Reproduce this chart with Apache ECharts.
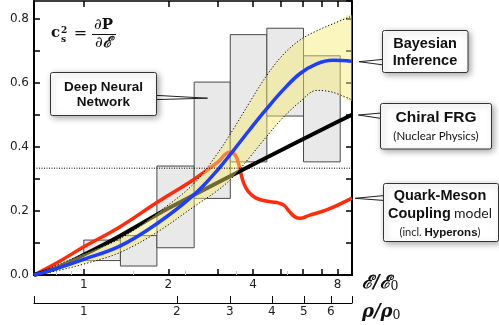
<!DOCTYPE html>
<html>
<head>
<meta charset="utf-8">
<script src="https://cdn.jsdelivr.net/npm/echarts@6/dist/echarts.min.js"></script>
<style>
html,body{margin:0;padding:0;background:#fff;}
#chart{width:499px;height:325px;}
</style>
</head>
<body>
<div id="chart"></div>
<script>
// ---- axis ticks ----
const epsTicks = [1, 2, 3, 4, 5, 6, 7, 8];
const epsLabels = [1, 2, 4, 8];
const epsMinorTicks = [0.8, 0.9, 1.5, 2.3, 3.5, 5.3];
const rhoTicks = [1, 2, 3, 4, 5, 6];
const rhoAtEps = [1, 2.143, 3.31, 4.67, 6.07, 7.57];
const epsMin = 0.665, epsMax = 9.0;
const yMin = 0, yMax = 0.855;
const conformalLimit = 1 / 3;

// ---- Deep Neural Network boxes ----
const boxEdges = [1, 1.35, 1.82, 2.47, 3.32, 4.48, 6.05, 8.17];
const boxLow  = [0.045, 0.028, 0.085, 0.239, 0.353, 0.496, 0.353];
const boxHigh = [0.109, 0.123, 0.340, 0.602, 0.750, 0.770, 0.684];

// ---- Bayesian inference band + median ----
const bandEps  = [0.665, 0.8, 1, 1.343, 1.819, 2.463, 2.995, 3.388, 3.898, 4.47, 5.10, 5.87, 6.74, 7.70, 9.0];
const bandLow  = [0, 0.013, 0.034, 0.070, 0.133, 0.213, 0.264, 0.305, 0.368, 0.432, 0.490, 0.540, 0.576, 0.570, 0.546];
const bandHigh = [0, 0.030, 0.066, 0.113, 0.192, 0.285, 0.380, 0.452, 0.540, 0.622, 0.686, 0.733, 0.762, 0.784, 0.808];
const bayesMedian = [0, 0.020, 0.049, 0.090, 0.160, 0.250, 0.328, 0.386, 0.454, 0.518, 0.576, 0.628, 0.659, 0.670, 0.667];

// ---- Chiral FRG ----
const frgEps = [0.665, 0.8, 1, 1.343, 2, 4, 8, 9.0];
const frgVal = [0, 0.022, 0.063, 0.122, 0.208, 0.345, 0.478, 0.5];

// ---- Quark-Meson Coupling model (incl. hyperons) ----
const qmcEps = [0.665, 0.821, 1, 1.343, 1.819, 2.463, 2.995, 3.2, 3.33, 3.47, 3.56, 3.62, 3.70, 3.85, 4.1, 4.5, 4.86, 5.15, 5.4, 5.63, 5.87, 6.37, 7.31, 9.0];
const qmcVal = [0, 0.043, 0.088, 0.150, 0.226, 0.298, 0.352, 0.378, 0.384, 0.372, 0.345, 0.318, 0.288, 0.26, 0.24, 0.23, 0.226, 0.218, 0.197, 0.182, 0.177, 0.187, 0.203, 0.24];

const zip = (a, b) => a.map((v, i) => [v, b[i]]);

const chart = echarts.init(document.getElementById('chart'), null, {renderer: 'canvas'});

const labelFont = 'DejaVu Sans';
const baseX = {
  type: 'log', logBase: 2, min: epsMin, max: epsMax, gridIndex: 0,
  splitLine: {show: false}, minorTick: {show: false}, minorSplitLine: {show: false}
};
const dotted = {color: '#000', width: 1, type: [1.2, 2]};

const option = {
  animation: false,
  backgroundColor: '#fff',
  grid: {left: 34, right: 147, top: 1, bottom: 50, containLabel: false, outerBoundsMode: 'none'},
  xAxis: [
    Object.assign({}, baseX, {
      position: 'bottom',
      axisLine: {show: true, onZero: false, lineStyle: {color: '#000', width: 2}},
      axisTick: {show: true, inside: true, length: 6, customValues: epsTicks, lineStyle: {color: '#000', width: 1.5}},
      axisLabel: {show: true, customValues: epsLabels, color: '#222', fontSize: 12, fontFamily: labelFont, margin: 4,
        formatter: v => String(Math.round(v))}
    }),
    Object.assign({}, baseX, {
      position: 'top',
      axisLine: {show: true, onZero: false, lineStyle: {color: '#000', width: 1.5}},
      axisTick: {show: true, inside: true, length: 6, customValues: epsTicks, lineStyle: {color: '#000', width: 1.5}},
      axisLabel: {show: false}
    }),
    Object.assign({}, baseX, {
      position: 'bottom', offset: 28,
      axisLine: {show: true, onZero: false, lineStyle: {color: '#000', width: 1}},
      axisTick: {show: true, inside: true, length: 7, customValues: [epsMin].concat(rhoAtEps.slice(1), [epsMax]), lineStyle: {color: '#000', width: 1}},
      axisLabel: {show: true, customValues: rhoAtEps, color: '#222', fontSize: 12, fontFamily: labelFont, margin: 3,
        formatter: v => {
          let best = 0;
          rhoAtEps.forEach((e, i) => { if (Math.abs(e - v) < Math.abs(rhoAtEps[best] - v)) best = i; });
          return String(rhoTicks[best]);
        }}
    }),
    Object.assign({}, baseX, {
      position: 'bottom',
      axisLine: {show: false},
      axisTick: {show: true, inside: true, length: 4, customValues: epsMinorTicks, lineStyle: {color: '#c8c8c8', width: 1}},
      axisLabel: {show: false}
    })
  ],
  yAxis: [
    {
      type: 'value', min: yMin, max: yMax, interval: 0.1, position: 'left',
      splitLine: {show: false},
      axisLine: {show: true, onZero: false, lineStyle: {color: '#000', width: 2}},
      axisTick: {show: true, inside: true, length: 6, lineStyle: {color: '#000', width: 1.5}},
      axisLabel: {show: true, color: '#222', fontSize: 12, fontFamily: labelFont, margin: 5, showMaxLabel: false,
        formatter: v => {
          const k = Math.round(v * 10);
          if (Math.abs(v * 10 - k) > 1e-6 || k % 2 !== 0) return '';
          return (k / 10).toFixed(1);
        }}
    },
    {
      type: 'value', min: yMin, max: yMax, interval: 0.1, position: 'right',
      splitLine: {show: false},
      axisLine: {show: true, onZero: false, lineStyle: {color: '#000', width: 2}},
      axisTick: {show: true, inside: true, length: 6, lineStyle: {color: '#000', width: 1.5}},
      axisLabel: {show: false}
    }
  ],
  series: [
    {
      name: 'Deep Neural Network', type: 'custom', xAxisIndex: 0, yAxisIndex: 0, z: 1,
      encode: {x: [0, 1], y: [2, 3]},
      data: boxLow.map((lo, i) => [boxEdges[i], boxEdges[i + 1], lo, boxHigh[i]]),
      renderItem: (params, api) => {
        const p0 = api.coord([api.value(0), api.value(3)]);
        const p1 = api.coord([api.value(1), api.value(2)]);
        return {
          type: 'rect',
          shape: {x: p0[0], y: p0[1], width: p1[0] - p0[0], height: p1[1] - p0[1]},
          style: {fill: '#e9e9e9', stroke: '#4a4a4a', lineWidth: 1}
        };
      }
    },
    {
      name: 'QMC', type: 'line', xAxisIndex: 0, yAxisIndex: 0, z: 2,
      data: zip(qmcEps, qmcVal), showSymbol: false, smooth: 0.4,
      lineStyle: {color: '#ff2b0a', width: 3.5}
    },
    {
      name: 'Chiral FRG', type: 'line', xAxisIndex: 0, yAxisIndex: 0, z: 3,
      data: zip(frgEps, frgVal), showSymbol: false, smooth: 0.3,
      lineStyle: {color: '#000', width: 4}
    },
    {
      name: 'Bayesian band', type: 'custom', xAxisIndex: 0, yAxisIndex: 0, z: 4, clip: true,
      encode: {x: 0, y: [1, 2]},
      data: bandEps.map((e, i) => [e, bandLow[i], bandHigh[i]]),
      renderItem: (params, api) => {
        if (params.dataIndex !== 0) return null;
        const up = bandEps.map((e, i) => api.coord([e, bandHigh[i]]));
        const lo = bandEps.map((e, i) => api.coord([e, bandLow[i]])).reverse();
        return {
          type: 'polygon',
          shape: {points: up.concat(lo.slice(0, lo.length - 1)), smooth: 0.35},
          style: {fill: 'rgba(243,236,110,0.45)', stroke: null}
        };
      }
    },
    {
      name: 'bandLow', type: 'line', xAxisIndex: 0, yAxisIndex: 0, z: 4,
      data: zip(bandEps, bandLow), showSymbol: false, smooth: 0.35,
      lineStyle: dotted
    },
    {
      name: 'bandHigh', type: 'line', xAxisIndex: 0, yAxisIndex: 0, z: 4,
      data: zip(bandEps, bandHigh), showSymbol: false, smooth: 0.35,
      lineStyle: dotted
    },
    {
      name: 'Bayesian', type: 'line', xAxisIndex: 0, yAxisIndex: 0, z: 5,
      data: zip(bandEps, bayesMedian), showSymbol: false, smooth: 0.4,
      lineStyle: {color: '#1f3dff', width: 3.5}
    },
    {
      name: 'conformal', type: 'line', xAxisIndex: 0, yAxisIndex: 0, z: 6,
      data: [[epsMin, conformalLimit], [epsMax, conformalLimit]], showSymbol: false,
      lineStyle: {color: '#000', width: 1, type: [1, 1.5]}
    }
  ],
  graphic: [
    // formula
    {type: 'text', z: 50, style: {text: 'c', x: 51, y: 41, font: 'bold 15px "DejaVu Serif"', fill: '#111', textAlign: 'left', align: 'left', textVerticalAlign: 'bottom', verticalAlign: 'bottom'}},
    {type: 'text', z: 50, style: {text: 's', x: 61, y: 44, font: 'bold 9px "DejaVu Serif"', fill: '#111', textAlign: 'left', align: 'left', textVerticalAlign: 'bottom', verticalAlign: 'bottom'}},
    {type: 'text', z: 50, style: {text: '2', x: 61, y: 35, font: 'bold 9px "DejaVu Serif"', fill: '#111', textAlign: 'left', align: 'left', textVerticalAlign: 'bottom', verticalAlign: 'bottom'}},
    {type: 'text', z: 50, style: {text: '=', x: 80.5, y: 34, font: '16px "DejaVu Serif"', fill: '#111', textAlign: 'center', align: 'center', textVerticalAlign: 'middle', verticalAlign: 'middle'}},
    {type: 'text', z: 50, style: {text: '{d|∂}{p|P}', x: 103.5, y: 33, textAlign: 'center', align: 'center', textVerticalAlign: 'bottom', verticalAlign: 'bottom',
      rich: {d: {font: '15px "DejaVu Serif"', fill: '#111'}, p: {font: 'bold 15px "DejaVu Serif"', fill: '#111'}}}},
    {type: 'line', z: 50, shape: {x1: 92, y1: 34.5, x2: 116, y2: 34.5}, style: {stroke: '#111', lineWidth: 1}},
    {type: 'text', z: 50, style: {text: '{d|∂}{e|ℰ}', x: 103.5, y: 36, textAlign: 'center', align: 'center', textVerticalAlign: 'top', verticalAlign: 'top',
      rich: {d: {font: '15px "DejaVu Serif"', fill: '#111'}, e: {font: 'italic bold 15px "DejaVu Serif"', fill: '#111'}}}},

    // axis names
    {type: 'text', z: 50, style: {text: '{e|ℰ/ℰ}{s|0}', x: 362, y: 283, textAlign: 'left', align: 'left', textVerticalAlign: 'middle', verticalAlign: 'middle',
      rich: {e: {font: 'italic bold 18px "DejaVu Serif"', fill: '#111'}, s: {font: '12.5px "DejaVu Serif"', fill: '#111', padding: [8, 0, 0, 0]}}}},
    {type: 'text', z: 50, style: {text: '{e|ρ/ρ}{s|0}', x: 362, y: 312, textAlign: 'left', align: 'left', textVerticalAlign: 'middle', verticalAlign: 'middle',
      rich: {e: {font: 'italic bold 18px "DejaVu Serif"', fill: '#111'}, s: {font: '12.5px "DejaVu Serif"', fill: '#111', padding: [8, 0, 0, 0]}}}},

    // Deep Neural Network callout
    {type: 'polygon', z: 60, shape: {points: [[155, 95.3], [207.5, 98.2], [155, 99.6]]}, style: {fill: '#fff', stroke: '#222', lineWidth: 1}},
    {type: 'rect', z: 61, shape: {x: 50.5, y: 72.5, width: 106, height: 43, r: 2}, style: {fill: '#fff', stroke: '#333', lineWidth: 1, shadowBlur: 6, shadowOffsetX: 2, shadowOffsetY: 2, shadowColor: 'rgba(0,0,0,0.35)'}},
    {type: 'text', z: 62, style: {text: 'Deep Neural', x: 103.5, y: 87, font: 'bold 13.5px "Liberation Sans"', fill: '#111', textAlign: 'center', align: 'center', textVerticalAlign: 'middle', verticalAlign: 'middle'}},
    {type: 'text', z: 62, style: {text: 'Network', x: 103.5, y: 102, font: 'bold 13.5px "Liberation Sans"', fill: '#111', textAlign: 'center', align: 'center', textVerticalAlign: 'middle', verticalAlign: 'middle'}},

    // Bayesian Inference callout
    {type: 'polygon', z: 60, shape: {points: [[384, 59.3], [359, 61.7], [384, 65]]}, style: {fill: '#fff', stroke: '#222', lineWidth: 1}},
    {type: 'rect', z: 61, shape: {x: 382.5, y: 30.5, width: 85.5, height: 42, r: 2}, style: {fill: '#fff', stroke: '#333', lineWidth: 1, shadowBlur: 6, shadowOffsetX: 2, shadowOffsetY: 2, shadowColor: 'rgba(0,0,0,0.35)'}},
    {type: 'text', z: 62, style: {text: 'Bayesian', x: 425, y: 43.5, font: 'bold 14.5px "Liberation Sans"', fill: '#111', textAlign: 'center', align: 'center', textVerticalAlign: 'middle', verticalAlign: 'middle'}},
    {type: 'text', z: 62, style: {text: 'Inference', x: 425, y: 61, font: 'bold 14.5px "Liberation Sans"', fill: '#111', textAlign: 'center', align: 'center', textVerticalAlign: 'middle', verticalAlign: 'middle'}},

    // Chiral FRG callout
    {type: 'polygon', z: 60, shape: {points: [[381.5, 113], [358.3, 115], [381.5, 118.5]]}, style: {fill: '#fff', stroke: '#222', lineWidth: 1}},
    {type: 'rect', z: 61, shape: {x: 380.5, y: 103.5, width: 111, height: 45.5, r: 2}, style: {fill: '#fff', stroke: '#333', lineWidth: 1, shadowBlur: 6, shadowOffsetX: 2, shadowOffsetY: 2, shadowColor: 'rgba(0,0,0,0.35)'}},
    {type: 'text', z: 62, style: {text: 'Chiral FRG', x: 436, y: 118, font: 'bold 15.5px "Liberation Sans"', fill: '#111', textAlign: 'center', align: 'center', textVerticalAlign: 'middle', verticalAlign: 'middle'}},
    {type: 'text', z: 62, style: {text: '(Nuclear Physics)', x: 436, y: 136, font: '11.5px "Lato"', fill: '#111', textAlign: 'center', align: 'center', textVerticalAlign: 'middle', verticalAlign: 'middle'}},

    // QMC callout
    {type: 'polygon', z: 60, shape: {points: [[384.5, 195.5], [355, 198.3], [384.5, 200.5]]}, style: {fill: '#fff', stroke: '#222', lineWidth: 1}},
    {type: 'rect', z: 61, shape: {x: 383.5, y: 183.5, width: 115, height: 58, r: 2}, style: {fill: '#fff', stroke: '#333', lineWidth: 1, shadowBlur: 6, shadowOffsetX: 2, shadowOffsetY: 2, shadowColor: 'rgba(0,0,0,0.35)'}},
    {type: 'text', z: 62, style: {text: 'Quark-Meson', x: 440, y: 195.5, font: 'bold 14.5px "Liberation Sans"', fill: '#111', textAlign: 'center', align: 'center', textVerticalAlign: 'middle', verticalAlign: 'middle'}},
    {type: 'text', z: 62, style: {text: '{b|Coupling} {r|model}', x: 440, y: 213.5, textAlign: 'center', align: 'center', textVerticalAlign: 'middle', verticalAlign: 'middle',
      rich: {b: {font: 'bold 14.5px "Liberation Sans"', fill: '#111'}, r: {font: '14px "Lato"', fill: '#222'}}}},
    {type: 'text', z: 62, style: {text: '{r|(incl. }{b|Hyperons}{r|)}', x: 440, y: 232.5, textAlign: 'center', align: 'center', textVerticalAlign: 'middle', verticalAlign: 'middle',
      rich: {b: {font: 'bold 11.5px "Liberation Sans"', fill: '#111'}, r: {font: '11px "Lato"', fill: '#222'}}}}
  ]
};
chart.setOption(option);
</script>
</body>
</html>
